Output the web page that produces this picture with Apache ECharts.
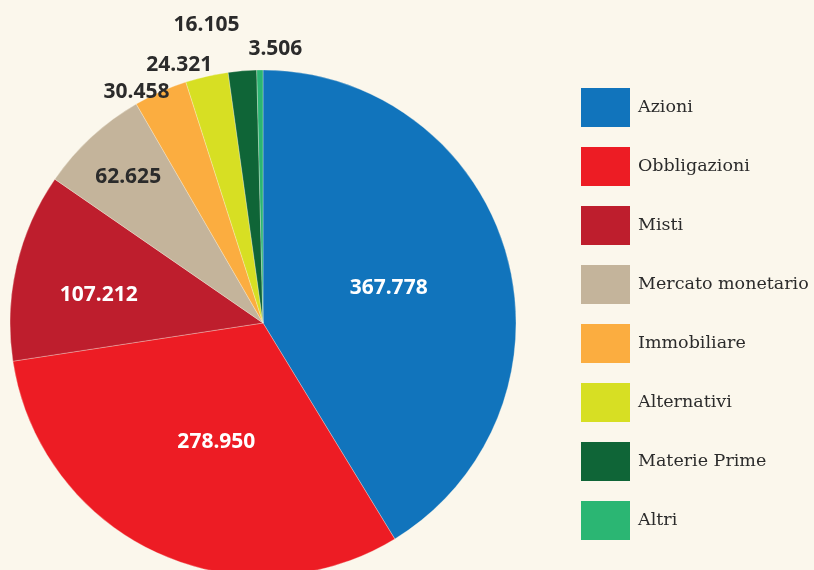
<!DOCTYPE html>
<html>
<head>
<meta charset="utf-8">
<script src="https://cdn.jsdelivr.net/npm/echarts@6/dist/echarts.min.js"></script>
<style>
  html, body { margin: 0; padding: 0; background: #fbf7ec; }
  #main { width: 814px; height: 570px; }
</style>
</head>
<body>
<div id="main"></div>
<script>
var categories = ['Azioni', 'Obbligazioni', 'Misti', 'Mercato monetario', 'Immobiliare', 'Alternativi', 'Materie Prime', 'Altri'];
var values = [367778, 278950, 107212, 62625, 30458, 24321, 16105, 3506];
var colors = ['#1174bc', '#ed1c24', '#be1e2d', '#c4b49b', '#fbad40', '#d7df23', '#0f6537', '#2bb673'];

// numeri in formato italiano (punto come separatore delle migliaia)
function fmt(v) {
  return String(v).replace(/\B(?=(\d{3})+(?!\d))/g, '.');
}

// spostamento etichette rispetto alla posizione "inside"
var nudge = [[1, 0], [8, 2], [-38, 1], [-47, -51], [-74, -113], [-55, -132], [-46, -169], [14, -144]];

var myChart = echarts.init(document.getElementById('main'));
var option = {
  backgroundColor: '#fbf7ec',
  animation: false,
  legend: {
    orient: 'vertical',
    left: 579,
    top: 86,
    padding: 0,
    icon: 'rect',
    itemWidth: 51,
    itemHeight: 41,
    itemGap: 16,
    selectedMode: false,
    textStyle: {
      fontFamily: 'DejaVu Serif',
      fontSize: 17.5,
      color: '#2b2b2b',
      padding: [0, 0, 0, 2]
    },
    data: categories
  },
  series: [
    {
      type: 'pie',
      center: [263, 323],
      radius: 253,
      startAngle: 90,
      clockwise: true,
      avoidLabelOverlap: false,
      itemStyle: { borderColor: '#fbf7ec', borderWidth: 0.3 },
      label: {
        position: 'inside',
        fontFamily: 'Noto Sans',
        fontWeight: 'bold',
        fontSize: 21,
        formatter: function (p) { return fmt(p.value); }
      },
      labelLine: { show: false },
      labelLayout: function (p) {
        var d = nudge[p.dataIndex];
        return { dx: d[0], dy: d[1] };
      },
      data: categories.map(function (c, i) {
        return {
          name: c,
          value: values[i],
          itemStyle: { color: colors[i] },
          label: { color: i < 3 ? '#ffffff' : '#2b2b2b' }
        };
      })
    }
  ]
};
myChart.setOption(option);
</script>
</body>
</html>
